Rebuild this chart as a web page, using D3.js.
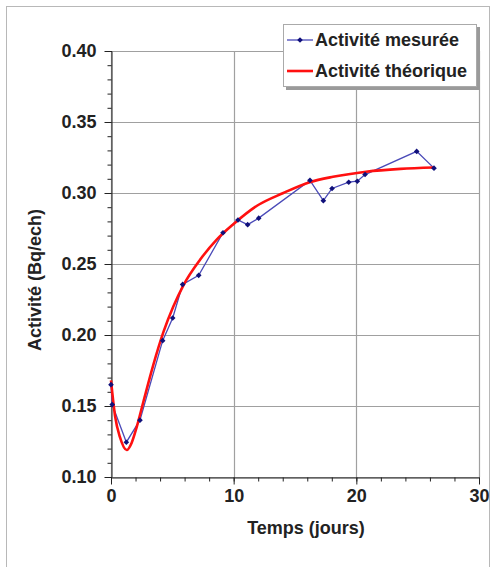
<!DOCTYPE html>
<html><head><meta charset="utf-8">
<script src="https://cdn.jsdelivr.net/npm/d3@7"></script>
<style>body{margin:0;background:#fff}text{font-family:"Liberation Sans",Arial,sans-serif;font-weight:bold;fill:#222}</style>
</head><body><svg id="c" width="494" height="567"></svg>
<script>
// measured activity
const measuredX = [0, 0.1, 1.25, 2.36, 4.21, 5.03, 5.84, 7.15, 9.13, 10.35, 11.14, 12.04, 16.22, 17.31, 18.02, 19.38, 20.08, 20.71, 24.92, 26.33];
const measuredY = [0.165, 0.151, 0.1245, 0.140, 0.196, 0.212, 0.2356, 0.242, 0.272, 0.281, 0.2777, 0.2823, 0.3089, 0.2946, 0.3032, 0.3076, 0.3083, 0.313, 0.3293, 0.3175];
// theoretical curve
const theoX = [0, 0.33, 0.73, 1.28, 1.68, 2.09, 2.64, 3.45, 4.27, 5.08, 5.9, 7.26, 8.6, 9.97, 11.9, 14.05, 16.2, 18.1, 20.8, 23.6, 26.3];
const theoY = [0.168, 0.143, 0.128, 0.119, 0.124, 0.135, 0.153, 0.179, 0.202, 0.220, 0.235, 0.253, 0.267, 0.278, 0.291, 0.300, 0.3076, 0.3114, 0.315, 0.317, 0.318];
const xTicks = [0, 10, 20, 30];
const yTicks = [0.10, 0.15, 0.20, 0.25, 0.30, 0.35, 0.40];
const seriesNames = ["Activité mesurée", "Activité théorique"];
const xTitle = "Temps (jours)";
const yTitle = "Activité (Bq/ech)";

const svg = d3.select("#c");
const L = 111, R = 479, T = 51, B = 477;
const FS = "18px";
const x = d3.scaleLinear().domain([0, 30]).range([L, R]);
const y = d3.scaleLinear().domain([0.10, 0.40]).range([B, T]);

// outer frame
svg.append("rect").attr("x", 6.5).attr("y", 6.5).attr("width", 483).attr("height", 580)
  .attr("fill", "none").attr("stroke", "#b8b8b8").attr("stroke-width", 1);

// grid
const g = svg.append("g");
g.selectAll("line.hy").data(yTicks).join("line")
  .attr("x1", L).attr("x2", R).attr("y1", d => Math.round(y(d)) + 0.5).attr("y2", d => Math.round(y(d)) + 0.5)
  .attr("stroke", "#a0a0a0").attr("stroke-width", 1.2);
g.selectAll("line.vx").data(xTicks).join("line")
  .attr("y1", T).attr("y2", B).attr("x1", d => Math.round(x(d)) + 0.5).attr("x2", d => Math.round(x(d)) + 0.5)
  .attr("stroke", "#a0a0a0").attr("stroke-width", 1.2);

// axes
const yMinor = d3.range(0.10, 0.4001, 0.01);
const xMinor = d3.range(0, 30.01, 2);
const yAxis = svg.append("g").attr("transform", `translate(${L + 0.5},0)`);
yAxis.call(d3.axisLeft(y).tickValues(yMinor).tickSize(4).tickFormat(""));
const yAxisMaj = svg.append("g").attr("transform", `translate(${L + 0.5},0)`)
  .call(d3.axisLeft(y).tickValues(yTicks).tickSize(7).tickPadding(8).tickFormat(d3.format(".2f")));
yAxisMaj.select(".domain").remove();
yAxisMaj.selectAll("text").style("font-size", FS).attr("fill", "#222");

const xAxis = svg.append("g").attr("transform", `translate(0,${B + 0.5})`);
xAxis.call(d3.axisBottom(x).tickValues(xMinor).tickSize(4).tickFormat(""));
const xAxisMaj = svg.append("g").attr("transform", `translate(0,${B + 0.5})`)
  .call(d3.axisBottom(x).tickValues(xTicks).tickSize(7).tickPadding(5).tickFormat(d3.format("d")));
xAxisMaj.select(".domain").remove();
xAxisMaj.selectAll("text").style("font-size", FS).attr("fill", "#222");
svg.selectAll(".domain, .tick line").attr("stroke", "#222");

// lines
const mData = measuredX.map((d, i) => [d, measuredY[i]]);
const tData = theoX.map((d, i) => [d, theoY[i]]);
svg.append("path").datum(mData)
  .attr("d", d3.line().x(d => x(d[0])).y(d => y(d[1])))
  .attr("fill", "none").attr("stroke", "#4a4ab8").attr("stroke-width", 1.3);
svg.append("path").datum(tData)
  .attr("d", d3.line().curve(d3.curveMonotoneX).x(d => x(d[0])).y(d => y(d[1])))
  .attr("fill", "none").attr("stroke", "#ff1010").attr("stroke-width", 2.6);
const diamond = d3.symbol().type(d3.symbolSquare).size(16);
svg.selectAll("path.pt").data(mData).join("path")
  .attr("transform", d => `translate(${x(d[0])},${y(d[1])}) rotate(45)`)
  .attr("d", diamond).attr("fill", "#10107a");

// legend
const lg = svg.append("g");
lg.append("rect").attr("x", 286).attr("y", 27).attr("width", 194).attr("height", 63).attr("fill", "#9a9a9a");
lg.append("rect").attr("x", 283.5).attr("y", 24.5).attr("width", 193).attr("height", 62)
  .attr("fill", "#fff").attr("stroke", "#aaa");
lg.append("line").attr("x1", 287).attr("x2", 313).attr("y1", 40).attr("y2", 40).attr("stroke", "#4a4ab8").attr("stroke-width", 1.3);
lg.append("path").attr("transform", "translate(300,40) rotate(45)").attr("d", diamond).attr("fill", "#10107a");
lg.append("line").attr("x1", 287).attr("x2", 313).attr("y1", 71).attr("y2", 71).attr("stroke", "#ff1010").attr("stroke-width", 2.6);
lg.selectAll("text").data(seriesNames).join("text")
  .attr("x", 315).attr("y", (d, i) => 46 + i * 31).style("font-size", FS).text(d => d);

// titles
svg.append("text").attr("x", 306).attr("y", 534).attr("text-anchor", "middle").style("font-size", FS).text(xTitle);
svg.append("text").attr("transform", "translate(41,280) rotate(-90)").attr("text-anchor", "middle").style("font-size", FS).text(yTitle);
</script></body></html>
